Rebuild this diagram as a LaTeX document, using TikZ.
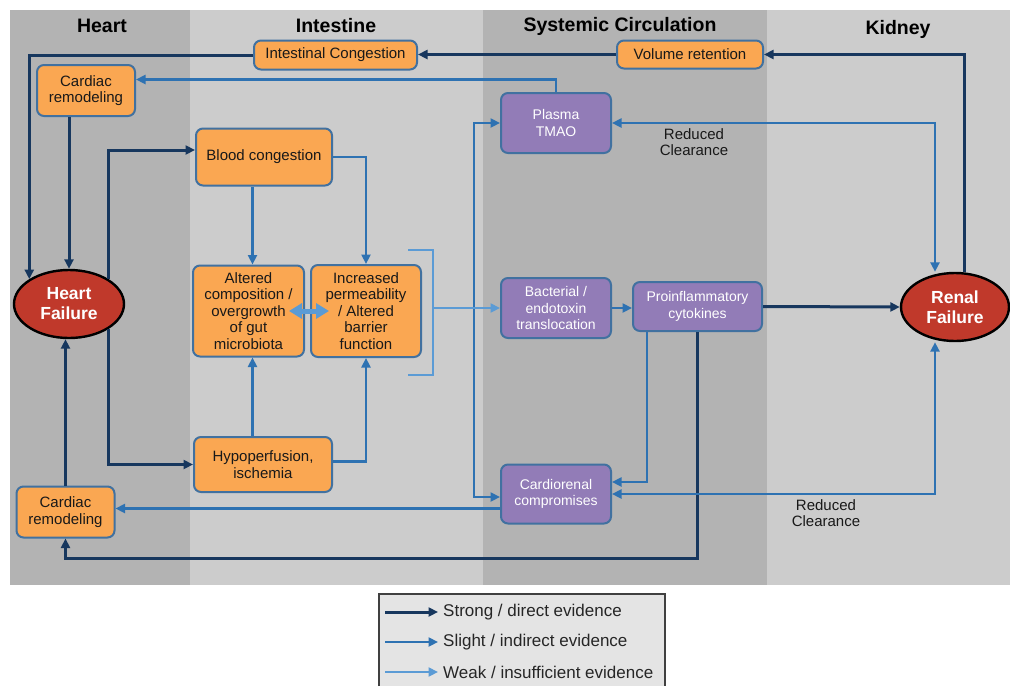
\documentclass[tikz,border=0pt]{standalone}
\usepackage{fontspec}
\setmainfont{Liberation Sans}
\usetikzlibrary{arrows.meta,shapes.geometric}
\definecolor{panelDark}{RGB}{179,179,179}
\definecolor{panelLight}{RGB}{204,204,204}
\definecolor{strongBlue}{RGB}{23,55,94}
\definecolor{slightBlue}{RGB}{46,114,178}
\definecolor{weakBlue}{RGB}{91,155,213}
\definecolor{boxOrange}{RGB}{250,167,82}
\definecolor{boxPurple}{RGB}{146,124,183}
\definecolor{boxLine}{RGB}{65,113,160}
\definecolor{failRed}{RGB}{192,57,43}
\definecolor{legendFill}{RGB}{228,228,228}
\newcommand*{\bodyfont}{\fontsize{15}{16.5}\selectfont}
\newcommand*{\purplefont}{\fontsize{14}{16.5}\selectfont}
\newcommand*{\headfont}{\fontsize{19.5}{22}\selectfont\bfseries}
\newcommand*{\failfont}{\fontsize{17.5}{20}\selectfont\bfseries}
\newcommand*{\legendfont}{\fontsize{17}{20}\selectfont}
\begin{document}
\begin{tikzpicture}[x=1pt, y=-1pt, >={Triangle[length=9.5pt,width=9pt]},
    colhead/.style={font=\headfont},
    orangebox/.style={draw=boxLine, fill=boxOrange, line width=2pt, rounded corners=7pt,
      inner sep=0pt, align=center, font=\bodyfont, text=black!90},
    purplebox/.style={orangebox, fill=boxPurple, text=white, font=\purplefont},
    failure/.style={ellipse, draw=black, fill=failRed, line width=2.4pt, inner sep=0pt,
      align=center, text=white, font=\failfont},
    clearance/.style={align=center, font=\bodyfont, text=black!90},
    legendtext/.style={anchor=west, inner sep=0pt, font=\legendfont, text=black!85},
    strong/.style={draw=strongBlue, line width=3pt},
    slight/.style={draw=slightBlue, line width=2.8pt},
    weak/.style={draw=weakBlue, line width=2.2pt}]
    \useasboundingbox (0,0) rectangle (1010,686);
    \fill[panelDark] (10,10) rectangle (190,585);
    \fill[panelLight] (190,10) rectangle (483,585);
    \fill[panelDark] (483,10) rectangle (767,585);
    \fill[panelLight] (767,10) rectangle (1010,585);

    \node[colhead] (heart) at (102,26) {Heart};
    \node[colhead] (intestine) at (336,26) {Intestine};
    \node[colhead] (systemic) at (620,26) {Systemic Circulation};
    \node[colhead] (kidney) at (898,29) {Kidney};

    \node[orangebox, minimum width=163pt, minimum height=29pt] (congestion) at (335.5,55) {Intestinal Congestion};
    \node[orangebox, minimum width=146pt, minimum height=28pt] (volume) at (690,54.5) {Volume retention};
    \node[orangebox, minimum width=98pt, minimum height=51pt] (remodeltop) at (86,90.5) {Cardiac\\remodeling};
    \node[purplebox, minimum width=110pt, minimum height=60pt] (tmao) at (556,123) {Plasma\\TMAO};
    \node[orangebox, minimum width=136pt, minimum height=57pt] (blood) at (264,157) {Blood congestion};
    \node[orangebox, minimum width=111pt, minimum height=91pt] (microbiota) at (248.5,311) {Altered\\composition /\\overgrowth\\of gut\\microbiota};
    \node[orangebox, minimum width=110pt, minimum height=92pt] (barrier) at (366,311) {Increased\\permeability\\/ Altered\\barrier\\function};
    \node[failure, minimum width=110pt, minimum height=68pt] (heartfail) at (69,304) {Heart\\Failure};
    \node[failure, minimum width=108pt, minimum height=68pt] (renalfail) at (955,307) {Renal\\Failure};
    \node[purplebox, minimum width=110pt, minimum height=60pt] (translocation) at (556,308) {Bacterial /\\endotoxin\\translocation};
    \node[purplebox, minimum width=129pt, minimum height=49pt] (cytokines) at (697.5,306.5) {Proinflammatory\\cytokines};
    \node[orangebox, minimum width=138pt, minimum height=55pt] (hypo) at (263,464.5) {Hypoperfusion,\\ischemia};
    \node[purplebox, minimum width=110pt, minimum height=59pt] (cardiorenal) at (556,494) {Cardiorenal\\compromises};
    \node[orangebox, minimum width=98pt, minimum height=51pt] (remodelbottom) at (65.5,512) {Cardiac\\remodeling};
    \node[clearance] (clearancetop) at (694,142) {Reduced\\Clearance};
    \node[clearance] (clearancebottom) at (826,513) {Reduced\\Clearance};
    \coordinate (bracket) at (433,308);
    \coordinate (split) at (474,308);

    \begin{scope}[strong, ->]
      \draw ([xshift=9pt]renalfail.north) |- (volume.east);
      \draw (volume.west) -- (volume.west -| congestion.east);
      \draw (congestion.west) -| (heartfail.north west);
      \draw (remodeltop.south -| heartfail.north) -- (heartfail.north);
      \draw (heartfail.north east) |- ([yshift=7pt]blood.west);
      \draw (heartfail.south east) |- (hypo.west);
      \draw (cytokines.east) -- (renalfail.west);
      \draw (cytokines.south) -- ++(0,226) -| (remodelbottom.south);
      \draw (remodelbottom.north) -- (remodelbottom.north |- heartfail.south);
    \end{scope}

    \begin{scope}[slight, ->]
      \draw (tmao.north) |- ([yshift=11pt]remodeltop.east);
      \draw ([xshift=4pt]microbiota.north |- blood.south) -- ([xshift=4pt]microbiota.north);
      \draw (blood.east) -| (barrier.north);
      \draw ([xshift=4pt]microbiota.south |- hypo.north) -- ([xshift=4pt]microbiota.south);
      \draw ([yshift=3pt]hypo.east) -| (barrier.south);
      \draw (split) |- (tmao.west);
      \draw (split) |- ([yshift=-3pt]cardiorenal.west);
      \draw (translocation.east) -- (translocation.east -| cytokines.west);
      \draw ([xshift=-50.5pt]cytokines.south) |- ([yshift=12pt]cardiorenal.east);
      \draw ([yshift=-14.5pt]cardiorenal.west) -- ([yshift=-14.5pt]cardiorenal.west -| remodelbottom.east);
      \draw[<->] (tmao.east) -| ([xshift=-20pt]renalfail.north);
      \draw[<->] ([xshift=-20pt]renalfail.south) |- (cardiorenal.east);
    \end{scope}

    \begin{scope}[weak, ->]
      \draw[-] (408,250) -| (433,375) -- (408,375);
      \draw (bracket) -- (translocation.west);
      \draw[<->, line width=5pt, >={Triangle[length=13pt,width=15pt]}]
        ([xshift=-16pt]microbiota.east) -- ([xshift=19pt]barrier.west);
    \end{scope}

    \fill[legendFill] (379,594) rectangle (665,686);
    \draw[black!75, line width=1.4pt] (379,686) |- (665,594) -- (665,686);
    \node[legendtext] (lgstrong) at (443,612) {Strong / direct evidence};
    \node[legendtext] (lgslight) at (443,642) {Slight / indirect evidence};
    \node[legendtext] (lgweak) at (443,672) {Weak / insufficient evidence};
    \draw[strong, ->] ([xshift=-58pt]lgstrong.west) -- ([xshift=-5pt]lgstrong.west);
    \draw[slight, ->] ([xshift=-58pt]lgslight.west) -- ([xshift=-5pt]lgslight.west);
    \draw[weak, ->] ([xshift=-58pt]lgweak.west) -- ([xshift=-5pt]lgweak.west);
\end{tikzpicture}
\end{document}
